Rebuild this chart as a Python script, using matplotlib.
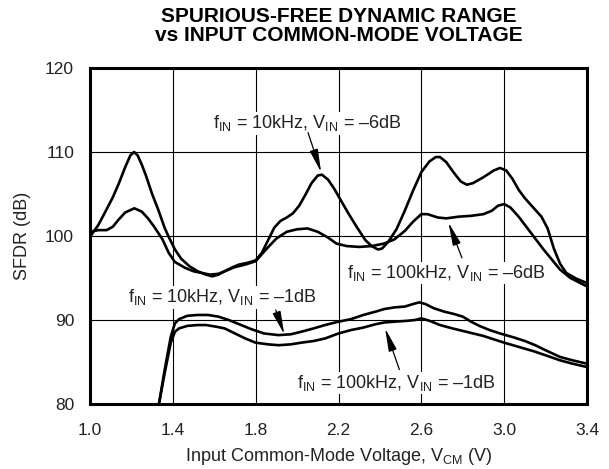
import matplotlib
matplotlib.use('Agg')
import matplotlib.pyplot as plt

plt.rcParams['font.family'] = 'Liberation Sans'
plt.rcParams['mathtext.fontset'] = 'custom'
plt.rcParams['mathtext.rm'] = 'Liberation Sans'
plt.rcParams['mathtext.it'] = 'Liberation Sans:italic'
plt.rcParams['mathtext.bf'] = 'Liberation Sans:bold'

# values
vcm_10k_6db = [1.00, 1.04, 1.07, 1.11, 1.14, 1.17, 1.195, 1.213, 1.23, 1.25, 1.27, 1.30, 1.33,
               1.36, 1.38, 1.41, 1.44, 1.48, 1.52, 1.56, 1.59, 1.62, 1.65, 1.69, 1.72, 1.76,
               1.80, 1.83, 1.86, 1.89, 1.92, 1.95, 1.98, 2.01, 2.04, 2.07, 2.10, 2.12, 2.15,
               2.18, 2.21, 2.25, 2.29, 2.33, 2.36, 2.39, 2.41, 2.44, 2.48, 2.52, 2.56, 2.60,
               2.64, 2.67, 2.69, 2.72, 2.755, 2.79, 2.82, 2.85, 2.90, 2.95, 2.98, 3.01, 3.04,
               3.07, 3.10, 3.14, 3.18, 3.21, 3.24, 3.27, 3.30, 3.35, 3.40]
sfdr_10k_6db = [99.9, 101.3, 102.7, 104.6, 106.3, 108.2, 109.6, 110.0, 109.6, 108.5, 107.2, 105.0, 103.1,
                101.0, 99.9, 98.4, 97.3, 96.4, 95.8, 95.4, 95.2, 95.4, 95.8, 96.3, 96.6, 96.8,
                97.1, 98.0, 99.5, 101.0, 101.8, 102.2, 102.7, 103.6, 104.9, 106.3, 107.2, 107.3, 106.7,
                105.6, 104.3, 102.6, 101.0, 99.5, 98.8, 98.4, 98.5, 99.3, 100.8, 103.0, 105.4, 107.6,
                108.9, 109.4, 109.4, 108.8, 107.6, 106.5, 106.1, 106.3, 107.0, 107.8, 108.1, 107.8, 106.8,
                105.5, 104.5, 103.4, 102.3, 100.9, 98.5, 96.7, 95.6, 94.9, 94.4]

vcm_100k_6db = [1.00, 1.04, 1.08, 1.11, 1.14, 1.17, 1.214, 1.25, 1.28, 1.31, 1.35, 1.38, 1.41,
                1.46, 1.50, 1.54, 1.58, 1.62, 1.66, 1.70, 1.75, 1.80, 1.85, 1.90, 1.95, 2.00,
                2.05, 2.10, 2.15, 2.19, 2.24, 2.30, 2.36, 2.42, 2.47, 2.52, 2.56, 2.60, 2.63,
                2.68, 2.72, 2.78, 2.84, 2.90, 2.94, 2.97, 3.00, 3.03, 3.07, 3.11, 3.15, 3.19,
                3.23, 3.27, 3.32, 3.36, 3.40]
sfdr_100k_6db = [100.5, 100.7, 100.7, 101.1, 102.0, 102.8, 103.3, 102.9, 102.1, 101.1, 99.6, 98.0, 96.9,
                 96.2, 95.8, 95.6, 95.4, 95.5, 95.9, 96.3, 96.6, 97.0, 98.4, 99.7, 100.5, 100.8,
                 100.9, 100.5, 99.8, 99.1, 98.8, 98.7, 98.8, 99.1, 99.6, 100.6, 101.7, 102.6, 102.6,
                 102.2, 102.1, 102.3, 102.4, 102.6, 103.0, 103.6, 103.8, 103.4, 102.3, 101.0, 99.7, 98.4,
                 97.2, 96.0, 95.0, 94.5, 94.0]

vcm_10k_1db = [1.333, 1.36, 1.39, 1.41, 1.43, 1.47, 1.52, 1.57, 1.62, 1.67, 1.73, 1.78, 1.84,
               1.91, 1.97, 2.02, 2.08, 2.135, 2.20, 2.26, 2.32, 2.38, 2.42, 2.47, 2.52, 2.56,
               2.59, 2.62, 2.66, 2.71, 2.76, 2.80, 2.84, 2.88, 2.93, 2.98, 3.05, 3.10, 3.15,
               3.20, 3.27, 3.33, 3.40]
sfdr_10k_1db = [80.0, 84.0, 88.0, 89.6, 90.1, 90.5, 90.6, 90.6, 90.4, 90.0, 89.4, 88.9, 88.4,
                88.2, 88.3, 88.6, 89.0, 89.4, 89.8, 90.1, 90.6, 91.0, 91.3, 91.5, 91.6, 91.9,
                92.1, 91.9, 91.4, 91.0, 90.7, 90.4, 89.8, 89.3, 88.8, 88.4, 87.9, 87.5, 87.0,
                86.4, 85.6, 85.2, 84.8]

vcm_100k_1db = [1.333, 1.36, 1.39, 1.41, 1.43, 1.47, 1.52, 1.56, 1.61, 1.65, 1.70, 1.75, 1.80,
                1.86, 1.91, 1.97, 2.02, 2.08, 2.135, 2.20, 2.26, 2.32, 2.38, 2.42, 2.47, 2.53,
                2.57, 2.60, 2.64, 2.69, 2.75, 2.80, 2.85, 2.90, 2.95, 3.00, 3.07, 3.14, 3.20,
                3.27, 3.33, 3.40]
sfdr_100k_1db = [80.0, 83.6, 87.3, 88.6, 89.0, 89.3, 89.4, 89.4, 89.2, 89.0, 88.4, 87.8, 87.3,
                 87.1, 87.0, 87.1, 87.3, 87.5, 87.8, 88.4, 88.8, 89.1, 89.5, 89.7, 89.8, 89.9,
                 90.0, 90.2, 89.9, 89.4, 89.0, 88.7, 88.4, 88.1, 87.7, 87.3, 86.8, 86.3, 85.8,
                 85.2, 84.8, 84.4]

x_ticks = [1.0, 1.4, 1.8, 2.2, 2.6, 3.0, 3.4]
y_ticks = [80, 90, 100, 110, 120]

W, H = 609, 469
fig = plt.figure(figsize=(W / 100, H / 100), dpi=100)
ax = fig.add_axes([90 / W, 1 - 404 / H, (587 - 90) / W, (404 - 68) / H])

curves = [(vcm_10k_6db, sfdr_10k_6db), (vcm_100k_6db, sfdr_100k_6db),
          (vcm_10k_1db, sfdr_10k_1db), (vcm_100k_1db, sfdr_100k_1db)]
for xs, ys in curves:
    ax.plot(xs, ys, color='k', lw=1.9, solid_joinstyle='round')

ax.set_xlim(1.0, 3.4)
ax.set_ylim(80, 120)
ax.set_xticks(x_ticks)
ax.set_xticklabels([f'{v:.1f}' for v in x_ticks])
ax.set_yticks(y_ticks)
ax.set_axisbelow(True)
ax.grid(True, color='k', lw=0.8)
ax.tick_params(length=0, labelsize=12.5, colors='#222222')
ax.tick_params(axis='x', pad=14)
ax.tick_params(axis='y', pad=11.5)
for s in ax.spines.values():
    s.set_linewidth(2.2)

box = dict(fc='white', ec='none', pad=1)
fs = 13
ax.text(1.594, 112.8, r'f$_{\mathrm{IN}}$ = 10kHz, V$_{\mathrm{IN}}$ = –6dB',
        fontsize=fs, ha='left', va='baseline', bbox=box, color='#222222')
ax.text(2.240, 95.0, r'f$_{\mathrm{IN}}$ = 100kHz, V$_{\mathrm{IN}}$ = –6dB',
        fontsize=fs, ha='left', va='baseline', bbox=box, color='#222222')
ax.text(1.185, 92.1, r'f$_{\mathrm{IN}}$ = 10kHz, V$_{\mathrm{IN}}$ = –1dB',
        fontsize=fs, ha='left', va='baseline', bbox=box, color='#222222')
ax.text(1.998, 81.9, r'f$_{\mathrm{IN}}$ = 100kHz, V$_{\mathrm{IN}}$ = –1dB',
        fontsize=fs, ha='left', va='baseline', bbox=box, color='#222222')

# thin leader lines with long narrow heads
arrow = dict(arrowstyle='-|>,head_length=1.0,head_width=0.18', color='k', lw=0.9,
             shrinkA=0, shrinkB=0, mutation_scale=14)
ax.annotate('', xy=(2.116, 107.6), xytext=(2.053, 112.3), arrowprops=arrow)
ax.annotate('', xy=(2.731, 101.6), xytext=(2.796, 97.4), arrowprops=arrow)
ax.annotate('', xy=(1.938, 88.3), xytext=(1.897, 91.2), arrowprops=arrow)
ax.annotate('', xy=(2.425, 89.0), xytext=(2.494, 84.1), arrowprops=arrow)

fig.text(338.5 / W, 1 - 22 / H, 'SPURIOUS-FREE DYNAMIC RANGE', fontsize=15,
         fontweight='bold', ha='center', va='baseline')
fig.text(338.5 / W, 1 - 41 / H, 'vs INPUT COMMON-MODE VOLTAGE', fontsize=15,
         fontweight='bold', ha='center', va='baseline')
fig.text(22.7 / W, 1 - 236 / H, 'SFDR (dB)', fontsize=13, rotation=90,
         ha='center', va='center', color='#222222')
fig.text(338.5 / W, 1 - 461 / H, r'Input Common-Mode Voltage, V$_{\mathrm{CM}}$ (V)',
         fontsize=13, ha='center', va='baseline', color='#222222')

fig.savefig('out.png', dpi=100)
